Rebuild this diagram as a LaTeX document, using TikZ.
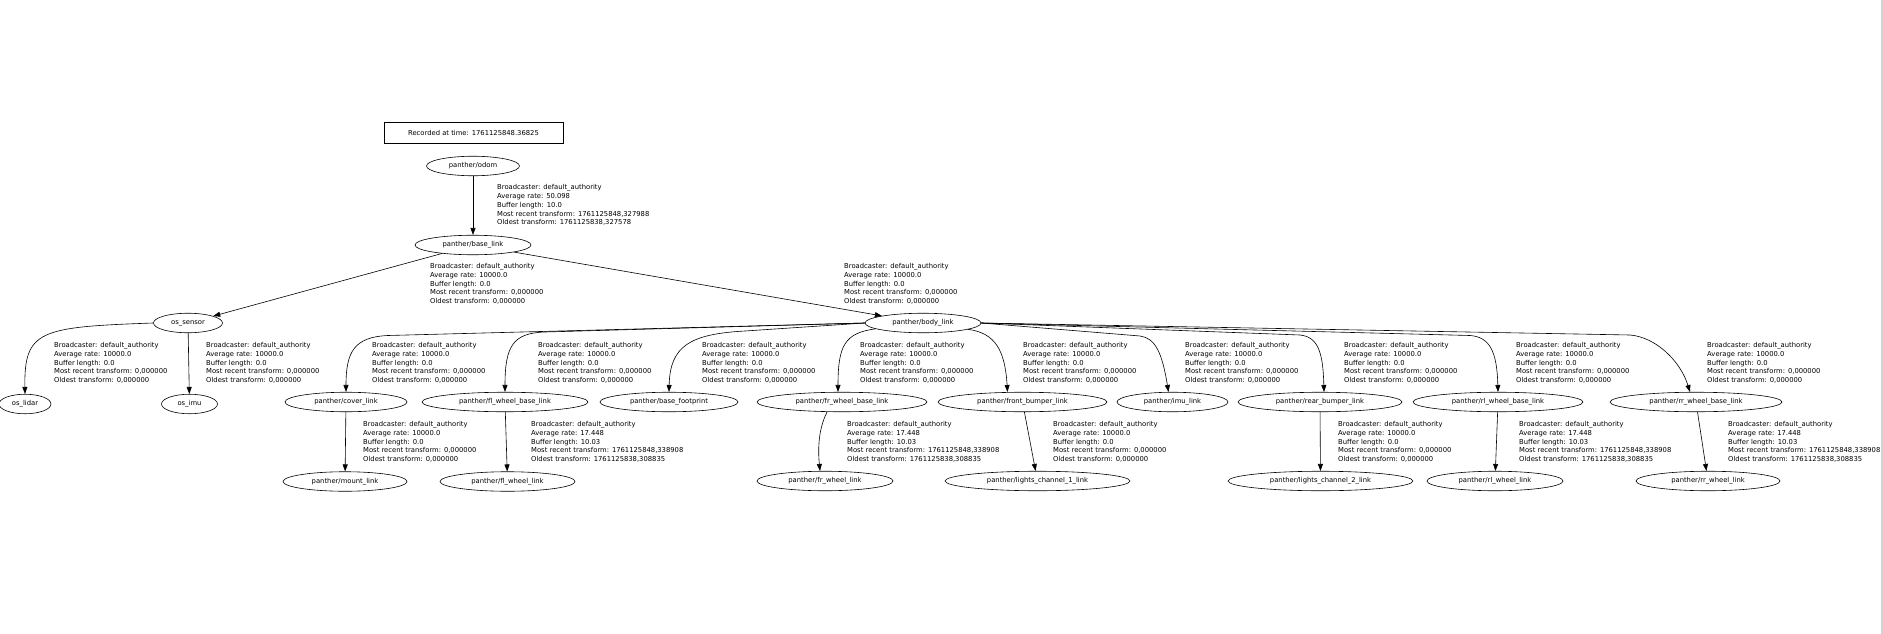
\documentclass[tikz,border=0pt]{standalone}
\usepackage{fontspec}
\setmainfont{DejaVu Sans}
\usetikzlibrary{shapes.geometric,arrows.meta}
\newcommand\tffont{\fontsize{6.8}{8.7}\selectfont}
\newcommand\lblzero{Broadcaster: default\_authority\\Average rate: 10000.0\\Buffer length: 0.0\\Most recent transform: 0,000000\\Oldest transform: 0,000000}
\newcommand\lblwheel{Broadcaster: default\_authority\\Average rate: 17.448\\Buffer length: 10.03\\Most recent transform: 1761125848,338908\\Oldest transform: 1761125838,308835}
\begin{document}
\begin{tikzpicture}[x=1pt,y=-1pt,
  tf/.style={ellipse,draw,line width=0.6pt,inner sep=0pt,minimum height=19.5pt,font=\tffont},
  lbl/.style={anchor=north west,align=left,inner sep=0pt,font=\tffont},
  edge/.style={draw,line width=0.6pt,-{Triangle[length=7pt,width=5pt]}}]
\fill[white] (0,0) rectangle (1883,634);
\useasboundingbox (0,0) rectangle (1883,634);
\fill[gray!35] (1880.5,0) rectangle (1883,634);

% header
\node[draw,line width=0.6pt,minimum width=179pt,minimum height=21pt,inner sep=0pt,font=\tffont] (rec) at (473.5,132.5) {Recorded at time: 1761125848.36825};

% level 0/1
\node[tf,minimum width=93pt] (odom) at (473,166) {panther/odom};
\node[tf,minimum width=116pt] (base) at (473,245) {panther/base\_link};
\node[tf,minimum width=69pt] (sensor) at (188,323) {os\_sensor};
\node[tf,minimum width=116pt] (body) at (923,323) {panther/body\_link};

% level 2
\node[tf,minimum width=52pt] (lidar) at (25,404) {os\_lidar};
\node[tf,minimum width=56pt] (osimu) at (189.5,404) {os\_imu};
\node[tf,minimum width=122pt] (cover) at (346,402) {panther/cover\_link};
\node[tf,minimum width=166pt] (flb) at (505,402) {panther/fl\_wheel\_base\_link};
\node[tf,minimum width=138pt] (foot) at (669,402) {panther/base\_footprint};
\node[tf,minimum width=170pt] (frb) at (842,402) {panther/fr\_wheel\_base\_link};
\node[tf,minimum width=169pt] (fbump) at (1022.5,402) {panther/front\_bumper\_link};
\node[tf,minimum width=111pt] (imu) at (1172.5,402) {panther/imu\_link};
\node[tf,minimum width=164pt] (rbump) at (1320,402) {panther/rear\_bumper\_link};
\node[tf,minimum width=170pt] (rlb) at (1498,402) {panther/rl\_wheel\_base\_link};
\node[tf,minimum width=172pt] (rrb) at (1696,402) {panther/rr\_wheel\_base\_link};

% level 3
\node[tf,minimum width=124pt] (mount) at (345,481.5) {panther/mount\_link};
\node[tf,minimum width=135pt] (flw) at (507.5,481.5) {panther/fl\_wheel\_link};
\node[tf,minimum width=136pt] (frw) at (825,481) {panther/fr\_wheel\_link};
\node[tf,minimum width=185pt] (lc1) at (1037.5,481) {panther/lights\_channel\_1\_link};
\node[tf,minimum width=185pt] (lc2) at (1320.5,481) {panther/lights\_channel\_2\_link};
\node[tf,minimum width=136pt] (rlw) at (1495,481) {panther/rl\_wheel\_link};
\node[tf,minimum width=144pt] (rrw) at (1708,481) {panther/rr\_wheel\_link};

% edge labels
\node[lbl] (lodom) at (497,184.6) {Broadcaster: default\_authority\\Average rate: 50.098\\Buffer length: 10.0\\Most recent transform: 1761125848,327988\\Oldest transform: 1761125838,327578};
\node[lbl] (lsensor) at (430,263.3) {\lblzero};
\node[lbl] (lbody) at (844,263.3) {\lblzero};
\node[lbl] (llidar) at (54,342.3) {\lblzero};
\node[lbl] (losimu) at (206,342.3) {\lblzero};
\node[lbl] (lcover) at (372,342.3) {\lblzero};
\node[lbl] (lflb) at (538,342.3) {\lblzero};
\node[lbl] (lfoot) at (702,342.3) {\lblzero};
\node[lbl] (lfrb) at (860,342.3) {\lblzero};
\node[lbl] (lfbump) at (1023,342.3) {\lblzero};
\node[lbl] (limu) at (1185,342.3) {\lblzero};
\node[lbl] (lrbump) at (1344,342.3) {\lblzero};
\node[lbl] (lrlb) at (1516,342.3) {\lblzero};
\node[lbl] (lrrb) at (1707,342.3) {\lblzero};
\node[lbl] (lmount) at (363,421.3) {\lblzero};
\node[lbl] (lflw) at (531,421.3) {\lblwheel};
\node[lbl] (lfrw) at (847,421.3) {\lblwheel};
\node[lbl] (llc1) at (1053,421.3) {\lblzero};
\node[lbl] (llc2) at (1338,421.3) {\lblzero};
\node[lbl] (lrlw) at (1519,421.3) {\lblwheel};
\node[lbl] (lrrw) at (1728,421.3) {\lblwheel};

% edges
\path[edge] (odom) -- (base);
\path[edge] (base) -- (sensor);
\path[edge] (base) -- (body);
\path[edge] (sensor.west) .. controls (40,327) and (24,330) .. (lidar.north);
\path[edge] (sensor) -- (osimu);

\path[edge] (body.west) -- (388,335.5) .. controls (354,337) and (346,352) .. (cover.north);
\path[edge] (body.west) -- (545,332) .. controls (513,333) and (505,346) .. (flb.north);
\path[edge] (body.west) -- (745,331) .. controls (690,334) and (670,346) .. (foot.north);
\path[edge] (body.187) .. controls (845,333) and (838,345) .. ([xshift=-4pt]frb.north);
\path[edge] (body.-8) .. controls (995,333) and (1005,350) .. ([xshift=-15pt]fbump.north);
\path[edge] (body.east) -- (1140,336) .. controls (1155,338) and (1162,352) .. ([xshift=-4pt]imu.north);
\path[edge] (body.east) -- (1300,335) .. controls (1318,337) and (1323,352) .. ([xshift=4pt]rbump.north);
\path[edge] (body.east) -- (1470,335.5) .. controls (1490,337) and (1497,352) .. (rlb.north);
\path[edge] (body.east) -- (1630,335) .. controls (1655,337) and (1680,360) .. ([xshift=-6pt]rrb.north);

\path[edge] (cover) -- (mount);
\path[edge] (flb) -- (flw);
\path[edge] ([xshift=-15pt]frb.south) .. controls (818,430) and (818,450) .. ([xshift=-5pt]frw.north);
\path[edge] (fbump) -- (lc1);
\path[edge] (rbump) -- (lc2);
\path[edge] (rlb) -- (rlw);
\path[edge] (rrb) -- (rrw);
\end{tikzpicture}
\end{document}
